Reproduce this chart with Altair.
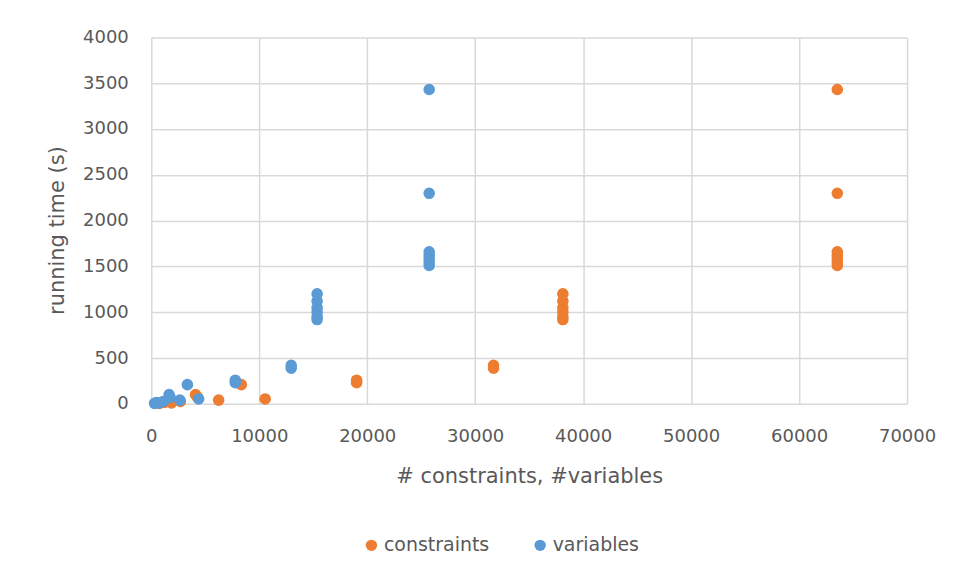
import altair as alt
import pandas as pd

# running time (s) of each experiment
times = [5, 15, 10, 25, 100, 70, 40, 209, 53, 230, 258, 388, 420,
         920, 950, 1000, 1050, 1120, 1200,
         1510, 1545, 1580, 1620, 1660, 2298, 3431]
# number of constraints for each experiment
constraints = [740, 1230, 1870, 2700, 4100, 4300, 6240, 8340, 10550, 19020, 19020, 31700, 31700,
               38120, 38120, 38120, 38120, 38120, 38120,
               63540, 63540, 63540, 63540, 63540, 63540, 63540]
# number of variables for each experiment
variables = [300, 500, 760, 1100, 1650, 1750, 2650, 3345, 4390, 7780, 7780, 12960, 12960,
             15360, 15360, 15360, 15360, 15360, 15360,
             25740, 25740, 25740, 25740, 25740, 25740, 25740]

series_names = ["constraints", "variables"]
series_colors = ["#ED7D31", "#5B9BD5"]
x_ticks = [0, 10000, 20000, 30000, 40000, 50000, 60000, 70000]
y_ticks = [0, 500, 1000, 1500, 2000, 2500, 3000, 3500, 4000]

rows = []
for i, t in enumerate(times):
    rows.append({"size": constraints[i], "time": t, "series": "constraints", "order": 0})
for i, t in enumerate(times):
    rows.append({"size": variables[i], "time": t, "series": "variables", "order": 1})
df = pd.DataFrame(rows)

FONT = "DejaVu Sans"
TXT = "#595959"

chart = alt.Chart(df).mark_circle(size=135, opacity=1).encode(
    x=alt.X("size:Q", scale=alt.Scale(domain=[0, 70000], nice=False),
            axis=alt.Axis(values=x_ticks, title="# constraints, #variables",
                          titleY=73, titleBaseline="middle", labelPadding=24,
                          labelFlush=False, format="d")),
    y=alt.Y("time:Q", scale=alt.Scale(domain=[0, 4000], nice=False),
            axis=alt.Axis(values=y_ticks, title="running time (s)",
                          titleX=-94, titleY=193, titleAngle=-90,
                          titleBaseline="middle", titleAlign="center",
                          labelPadding=23, labelFlush=False, format="d")),
    color=alt.Color("series:N",
                    scale=alt.Scale(domain=series_names, range=series_colors),
                    legend=alt.Legend(title=None, orient="none", direction="horizontal",
                                      legendX=211, legendY=499, symbolSize=130,
                                      symbolType="circle", labelOffset=3,
                                      columnPadding=41)),
    order=alt.Order("order:Q"),
).properties(
    width=757, height=367,
    autosize=alt.AutoSizeParams(type="none"),
    padding={"left": 143.5, "top": 29, "right": 40, "bottom": 160},
).configure_view(
    stroke=None
).configure_axis(
    grid=True, gridColor="#D9D9D9", gridWidth=1.5,
    domain=False, ticks=False,
    labelFont=FONT, labelFontSize=18, labelColor=TXT,
    titleFont=FONT, titleFontSize=21, titleColor=TXT, titleFontWeight="normal",
).configure_legend(
    labelFont=FONT, labelFontSize=19, labelColor=TXT,
)

chart.save("out.html", embed_options={"renderer": "svg", "actions": False})
